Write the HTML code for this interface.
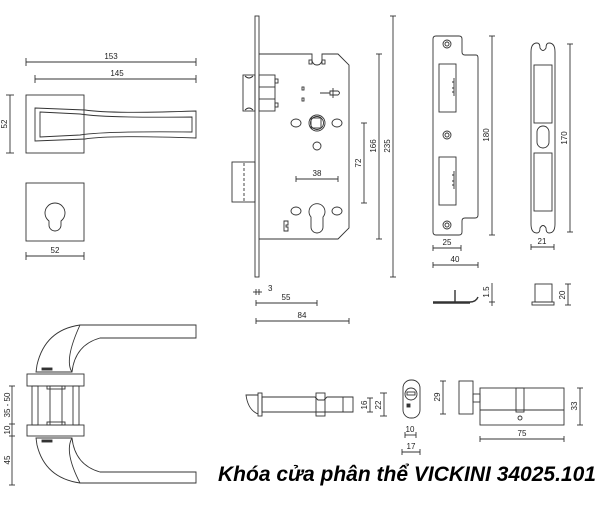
<!DOCTYPE html>
<html><head><meta charset="utf-8"><style>
html,body{margin:0;padding:0;background:#fff;width:600px;height:520px;overflow:hidden}
svg{display:block}
text{font-family:"Liberation Sans",sans-serif;font-size:8px;fill:#222}
.t{font-size:21px;font-weight:bold;font-style:italic;fill:#000}
</style></head><body>
<svg width="600" height="520" viewBox="0 0 600 520" fill="none" stroke="#333" stroke-width="0.9">
<!-- top-left handle -->
<line x1="26" y1="62" x2="196" y2="62"/><line x1="26" y1="58" x2="26" y2="66"/><line x1="196" y1="58" x2="196" y2="66"/>
<text x="111" y="59" text-anchor="middle" stroke="none">153</text>
<line x1="35" y1="79" x2="196" y2="79"/><line x1="35" y1="75" x2="35" y2="83"/><line x1="196" y1="75" x2="196" y2="83"/>
<text x="117" y="76" text-anchor="middle" stroke="none">145</text>
<line x1="10" y1="95" x2="10" y2="153"/><line x1="6" y1="95" x2="14" y2="95"/><line x1="6" y1="153" x2="14" y2="153"/>
<text x="0" y="0" transform="translate(7,124) rotate(-90)" text-anchor="middle" stroke="none">52</text>
<rect x="26" y="95" width="58" height="58"/>
<path d="M35 108 L85 110 Q110 114 196 111 L196 138 Q110 135 85 139 L35 141 Z"/>
<path d="M40 112 L80 114 Q105 118 192 117 L192 132 Q105 131 80 135 L40 137 Z"/>
<rect x="26" y="183" width="58" height="58"/>
<path d="M49 221 A10 10 0 1 1 61 221 L61 225 A6 6 0 0 1 49 225 Z"/>
<line x1="26" y1="256" x2="84" y2="256"/><line x1="26" y1="252" x2="26" y2="260"/><line x1="84" y1="252" x2="84" y2="260"/>
<text x="55" y="253" text-anchor="middle" stroke="none">52</text>
<!-- lock body -->
<rect x="255" y="16" width="4" height="261"/>
<path d="M259 54 L312 54 L312 60 A5 5 0 0 0 322 60 L322 54 L338 54 L349 65 L349 228 L338 239 L259 239"/>
<rect x="309" y="60" width="3" height="4"/><rect x="322" y="60" width="3" height="4"/>
<rect x="243" y="75" width="12" height="36"/>
<path d="M245 76 Q249 80 253 76 M245 110 Q249 106 253 110"/>
<rect x="259" y="75" width="16" height="36"/><line x1="259" y1="87" x2="275" y2="87"/><line x1="259" y1="99" x2="275" y2="99"/>
<rect x="275" y="79" width="3" height="4"/><rect x="275" y="103" width="3" height="4"/>
<rect x="232" y="162" width="23" height="40"/>
<line x1="244" y1="163" x2="244" y2="201" stroke-dasharray="3 2"/>
<rect x="302" y="87" width="2" height="3"/><rect x="302" y="98" width="2" height="3"/>
<path d="M320 93 L330 93 M330 91 L338 91 Q341 93 338 95 L330 95 Z M333 88 L333 98"/>
<circle cx="317" cy="123" r="8"/><circle cx="317" cy="123" r="6.5"/><rect x="311" y="118" width="10" height="10"/>
<ellipse cx="296" cy="123" rx="5" ry="4"/><ellipse cx="337" cy="123" rx="5" ry="4"/>
<circle cx="317" cy="146" r="4"/>
<line x1="296" y1="179" x2="338" y2="179"/><line x1="296" y1="176" x2="296" y2="182"/><line x1="338" y1="176" x2="338" y2="182"/>
<text x="317" y="176" text-anchor="middle" stroke="none">38</text>
<path d="M311 217 A8 8 0 1 1 323 217 L323 227 A6 6 0 0 1 311 227 Z"/>
<ellipse cx="296" cy="211" rx="5" ry="4"/><ellipse cx="337" cy="211" rx="5" ry="4"/>
<path d="M284 221 L288 221 L288 225 L286 225 L286 227 L288 227 L288 231 L284 231 Z"/>
<line x1="364" y1="123" x2="364" y2="203"/><line x1="361" y1="123" x2="367" y2="123"/><line x1="361" y1="203" x2="367" y2="203"/>
<text transform="translate(361,163) rotate(-90)" text-anchor="middle" stroke="none">72</text>
<line x1="379" y1="54" x2="379" y2="239"/><line x1="376" y1="54" x2="382" y2="54"/><line x1="376" y1="239" x2="382" y2="239"/>
<text transform="translate(376,146) rotate(-90)" text-anchor="middle" stroke="none">166</text>
<line x1="393" y1="16" x2="393" y2="277"/><line x1="390" y1="16" x2="396" y2="16"/><line x1="390" y1="277" x2="396" y2="277"/>
<text transform="translate(390,146) rotate(-90)" text-anchor="middle" stroke="none">235</text>
<line x1="253" y1="292" x2="262" y2="292"/><line x1="256" y1="289" x2="256" y2="295"/><line x1="259" y1="289" x2="259" y2="295"/>
<text x="268" y="291" stroke="none">3</text>
<line x1="256" y1="303" x2="317" y2="303"/><line x1="256" y1="300" x2="256" y2="306"/><line x1="317" y1="300" x2="317" y2="306"/>
<text x="286" y="300" text-anchor="middle" stroke="none">55</text>
<line x1="256" y1="321" x2="349" y2="321"/><line x1="256" y1="318" x2="256" y2="324"/><line x1="349" y1="318" x2="349" y2="324"/>
<text x="302" y="318" text-anchor="middle" stroke="none">84</text>
<!-- strike plate -->
<path d="M436 36 L459 36 Q462 36 462 39 L462 52 Q462 55 465 55 L476 55 Q478 55 478 58 L478 215 Q478 218 475 218 L465 218 Q462 218 462 221 L462 232 Q462 235 459 235 L436 235 Q433 235 433 232 L433 39 Q433 36 436 36 Z"/>
<rect x="439" y="64" width="17" height="48"/><rect x="439" y="157" width="17" height="48"/>
<path d="M454 78 L454 96 M452 82 h2 M452 88 h2 M452 92 h2 M454 171 L454 189 M452 175 h2 M452 181 h2 M452 185 h2"/>
<circle cx="447" cy="44" r="4"/><circle cx="447" cy="44" r="2"/>
<circle cx="447" cy="135" r="4"/><circle cx="447" cy="135" r="2"/>
<circle cx="447" cy="225" r="4"/><circle cx="447" cy="225" r="2"/>
<line x1="492" y1="36" x2="492" y2="235"/><line x1="489" y1="36" x2="495" y2="36"/><line x1="489" y1="235" x2="495" y2="235"/>
<text transform="translate(489,135) rotate(-90)" text-anchor="middle" stroke="none">180</text>
<line x1="433" y1="248" x2="461" y2="248"/><line x1="433" y1="245" x2="433" y2="251"/><line x1="461" y1="245" x2="461" y2="251"/>
<text x="447" y="245" text-anchor="middle" stroke="none">25</text>
<line x1="433" y1="265" x2="478" y2="265"/><line x1="433" y1="262" x2="433" y2="268"/><line x1="478" y1="262" x2="478" y2="268"/>
<text x="455" y="262" text-anchor="middle" stroke="none">40</text>
<path d="M433 302 L470 302 Q476 302 478 297 M433 303 L470 303" stroke-width="1.4"/>
<line x1="455" y1="290" x2="455" y2="302" stroke-width="1.4"/>
<line x1="492" y1="283" x2="492" y2="306"/><line x1="489" y1="302" x2="495" y2="302"/>
<text transform="translate(489,292) rotate(-90)" text-anchor="middle" stroke="none">1.5</text>
<!-- strike 2 -->
<path d="M531 52 Q531 43 537 43 Q540 43 540 48 Q543 53 546 48 Q546 43 549 43 Q555 43 555 52 L555 224 Q555 233 549 233 Q546 233 546 228 Q543 223 540 228 Q540 233 537 233 Q531 233 531 224 Z"/>
<rect x="534" y="65" width="18" height="58"/><rect x="534" y="153" width="18" height="58"/>
<rect x="537" y="126" width="12" height="22" rx="6"/>
<line x1="570" y1="44" x2="570" y2="232"/><line x1="567" y1="44" x2="573" y2="44"/><line x1="567" y1="232" x2="573" y2="232"/>
<text transform="translate(567,138) rotate(-90)" text-anchor="middle" stroke="none">170</text>
<line x1="531" y1="247" x2="554" y2="247"/><line x1="531" y1="244" x2="531" y2="250"/><line x1="554" y1="244" x2="554" y2="250"/>
<text x="542" y="244" text-anchor="middle" stroke="none">21</text>
<rect x="535" y="284" width="17" height="18"/><rect x="532" y="302" width="22" height="3"/>
<line x1="568" y1="284" x2="568" y2="305"/><line x1="565" y1="284" x2="571" y2="284"/><line x1="565" y1="305" x2="571" y2="305"/>
<text transform="translate(565,295) rotate(-90)" text-anchor="middle" stroke="none">20</text>
<!-- handle side -->
<path d="M196 325 L80 325 Q45 330 37 365 L36 372 L72 372 Q75 345 100 338 L196 338 Z"/>
<path d="M72 372 Q64 360 80 325"/>
<rect x="27" y="374" width="57" height="12"/>
<rect x="27" y="425" width="57" height="11"/>
<rect x="32" y="386" width="6" height="39"/><rect x="73" y="386" width="6" height="39"/>
<rect x="50" y="386" width="12" height="39"/><rect x="47" y="386" width="18" height="3"/><rect x="47" y="422" width="18" height="3"/>
<path d="M196 483 L80 483 Q45 478 37 445 L36 438 L72 438 Q75 465 100 472 L196 472 Z"/>
<path d="M72 438 Q64 452 80 483"/>
<rect x="42" y="368" width="10" height="2" fill="#333"/><rect x="42" y="440" width="10" height="2" fill="#333"/>
<line x1="12" y1="386" x2="12" y2="485"/><line x1="9" y1="386" x2="15" y2="386"/><line x1="9" y1="424" x2="15" y2="424"/><line x1="9" y1="436" x2="15" y2="436"/><line x1="9" y1="485" x2="15" y2="485"/>
<text transform="translate(10,405) rotate(-90)" text-anchor="middle" stroke="none">35 - 50</text>
<text transform="translate(10,430) rotate(-90)" text-anchor="middle" stroke="none">10</text>
<text transform="translate(10,460) rotate(-90)" text-anchor="middle" stroke="none">45</text>
<!-- latch bolt -->
<path d="M258 395 L246 395 Q248 410 258 414"/>
<rect x="258" y="393" width="4" height="23"/>
<path d="M262 397 L315 397 L318 400 L324 400 L327 397 L353 397 L353 412 L262 412 Z"/>
<rect x="316" y="393" width="9" height="23"/><line x1="343" y1="397" x2="343" y2="412"/>
<line x1="370" y1="398" x2="370" y2="412"/><line x1="367" y1="398" x2="373" y2="398"/><line x1="367" y1="412" x2="373" y2="412"/>
<text transform="translate(367,405) rotate(-90)" text-anchor="middle" stroke="none">16</text>
<line x1="384" y1="393" x2="384" y2="416"/><line x1="380" y1="393" x2="387" y2="393"/><line x1="380" y1="416" x2="387" y2="416"/>
<text transform="translate(381,405) rotate(-90)" text-anchor="middle" stroke="none">22</text>
<!-- cylinder front -->
<rect x="403" y="380" width="17" height="38" rx="8"/>
<circle cx="411" cy="394" r="6"/><rect x="407" y="392" width="8" height="3"/>
<rect x="407" y="404" width="3" height="3" fill="#333"/>
<line x1="405" y1="435" x2="416" y2="435"/><line x1="405" y1="432" x2="405" y2="438"/><line x1="416" y1="432" x2="416" y2="438"/>
<text x="410" y="432" text-anchor="middle" stroke="none">10</text>
<line x1="402" y1="452" x2="420" y2="452"/><line x1="402" y1="449" x2="402" y2="455"/><line x1="420" y1="449" x2="420" y2="455"/>
<text x="411" y="449" text-anchor="middle" stroke="none">17</text>
<line x1="443" y1="381" x2="443" y2="414"/><line x1="440" y1="381" x2="446" y2="381"/><line x1="440" y1="414" x2="446" y2="414"/>
<text transform="translate(440,397) rotate(-90)" text-anchor="middle" stroke="none">29</text>
<!-- cylinder long -->
<rect x="459" y="381" width="14" height="33"/><rect x="473" y="394" width="7" height="8"/>
<rect x="480" y="388" width="84" height="37"/><line x1="480" y1="410" x2="564" y2="410"/>
<rect x="516" y="388" width="8" height="24"/>
<circle cx="520" cy="418" r="2"/>
<line x1="580" y1="388" x2="580" y2="425"/><line x1="577" y1="388" x2="583" y2="388"/><line x1="577" y1="425" x2="583" y2="425"/>
<text transform="translate(577,406) rotate(-90)" text-anchor="middle" stroke="none">33</text>
<line x1="480" y1="439" x2="564" y2="439"/><line x1="480" y1="436" x2="480" y2="442"/><line x1="564" y1="436" x2="564" y2="442"/>
<text x="522" y="436" text-anchor="middle" stroke="none">75</text>
<text class="t" x="218" y="481" stroke="none">Khóa cửa phân thể VICKINI 34025.101</text>
</svg>
</body></html>
